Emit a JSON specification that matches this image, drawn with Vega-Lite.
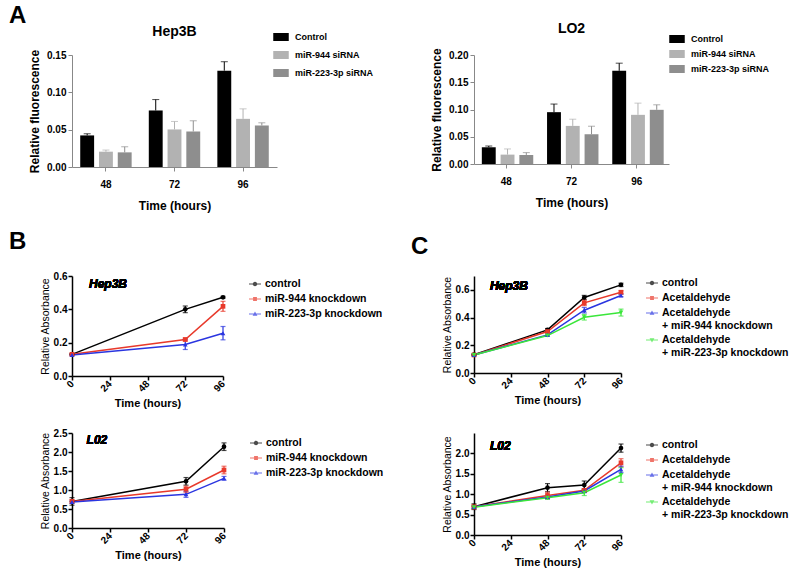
{
"$schema": "https://vega.github.io/schema/vega-lite/v6.json",
"background": "white",
"padding": {"left": 9, "top": 4, "right": 2, "bottom": 5},
"config": {
  "font": "Liberation Sans",
  "view": {"stroke": null},
  "axis": {"grid": false, "labelOverlap": false, "labelFont": "Liberation Sans", "titleFont": "Liberation Sans", "labelColor": "black", "titleColor": "black", "domainColor": "black", "tickColor": "black"},
  "legend": {"labelFont": "Liberation Sans", "labelColor": "black"},
  "title": {"font": "Liberation Sans", "color": "black"}
},
"title": {"text": "A", "anchor": "start", "fontSize": 24, "fontWeight": "bold", "dx": 0, "offset": -6},
"columns": 2,
"spacing": {"row": 19, "column": 27},
"resolve": {"scale": {"color": "independent", "shape": "independent"}, "legend": {"color": "independent", "shape": "independent"}},
"datasets": {
  "a_hep": [
    {"t": "48", "g": "Control", "v": 0.0423, "hi": 0.0445},
    {"t": "48", "g": "miR-944 siRNA", "v": 0.0205, "hi": 0.0227},
    {"t": "48", "g": "miR-223-3p siRNA", "v": 0.0196, "hi": 0.0271},
    {"t": "72", "g": "Control", "v": 0.0757, "hi": 0.0903},
    {"t": "72", "g": "miR-944 siRNA", "v": 0.0503, "hi": 0.061},
    {"t": "72", "g": "miR-223-3p siRNA", "v": 0.0476, "hi": 0.0619},
    {"t": "96", "g": "Control", "v": 0.129, "hi": 0.141},
    {"t": "96", "g": "miR-944 siRNA", "v": 0.0645, "hi": 0.0779},
    {"t": "96", "g": "miR-223-3p siRNA", "v": 0.0556, "hi": 0.0592}
  ],
  "a_lo2": [
    {"t": "48", "g": "Control", "v": 0.0307, "hi": 0.033},
    {"t": "48", "g": "miR-944 siRNA", "v": 0.0172, "hi": 0.0276},
    {"t": "48", "g": "miR-223-3p siRNA", "v": 0.0166, "hi": 0.0209},
    {"t": "72", "g": "Control", "v": 0.0951, "hi": 0.11},
    {"t": "72", "g": "miR-944 siRNA", "v": 0.0699, "hi": 0.0822},
    {"t": "72", "g": "miR-223-3p siRNA", "v": 0.0546, "hi": 0.0693},
    {"t": "96", "g": "Control", "v": 0.171, "hi": 0.185},
    {"t": "96", "g": "miR-944 siRNA", "v": 0.0902, "hi": 0.1117},
    {"t": "96", "g": "miR-223-3p siRNA", "v": 0.0994, "hi": 0.1086}
  ],
  "b_hep": [
    {"s": "control", "t": 0, "y": 0.13, "lo": 0.125, "hi": 0.135},
    {"s": "control", "t": 72, "y": 0.4, "lo": 0.38, "hi": 0.42},
    {"s": "control", "t": 96, "y": 0.472, "lo": 0.466, "hi": 0.478},
    {"s": "miR-944 knockdown", "t": 0, "y": 0.13, "lo": 0.125, "hi": 0.135},
    {"s": "miR-944 knockdown", "t": 72, "y": 0.219, "lo": 0.211, "hi": 0.227},
    {"s": "miR-944 knockdown", "t": 96, "y": 0.418, "lo": 0.388, "hi": 0.448},
    {"s": "miR-223-3p knockdown", "t": 0, "y": 0.126, "lo": 0.121, "hi": 0.131},
    {"s": "miR-223-3p knockdown", "t": 72, "y": 0.189, "lo": 0.159, "hi": 0.219},
    {"s": "miR-223-3p knockdown", "t": 96, "y": 0.257, "lo": 0.217, "hi": 0.297}
  ],
  "b_l02": [
    {"s": "control", "t": 0, "y": 0.7, "lo": 0.6, "hi": 0.8},
    {"s": "control", "t": 72, "y": 1.228, "lo": 1.128, "hi": 1.328},
    {"s": "control", "t": 96, "y": 2.14, "lo": 2.04, "hi": 2.24},
    {"s": "miR-944 knockdown", "t": 0, "y": 0.7, "lo": 0.65, "hi": 0.75},
    {"s": "miR-944 knockdown", "t": 72, "y": 1.02, "lo": 0.94, "hi": 1.1},
    {"s": "miR-944 knockdown", "t": 96, "y": 1.526, "lo": 1.426, "hi": 1.626},
    {"s": "miR-223-3p knockdown", "t": 0, "y": 0.684, "lo": 0.654, "hi": 0.714},
    {"s": "miR-223-3p knockdown", "t": 72, "y": 0.886, "lo": 0.806, "hi": 0.966},
    {"s": "miR-223-3p knockdown", "t": 96, "y": 1.307, "lo": 1.257, "hi": 1.357}
  ],
  "c_hep": [
    {"s": "control", "t": 0, "y": 0.1325, "lo": 0.1275, "hi": 0.1375},
    {"s": "control", "t": 48, "y": 0.311, "lo": 0.301, "hi": 0.321},
    {"s": "control", "t": 72, "y": 0.545, "lo": 0.53, "hi": 0.56},
    {"s": "control", "t": 96, "y": 0.636, "lo": 0.624, "hi": 0.648},
    {"s": "Acetaldehyde", "t": 0, "y": 0.13, "lo": 0.125, "hi": 0.135},
    {"s": "Acetaldehyde", "t": 48, "y": 0.299, "lo": 0.291, "hi": 0.307},
    {"s": "Acetaldehyde", "t": 72, "y": 0.506, "lo": 0.486, "hi": 0.526},
    {"s": "Acetaldehyde", "t": 96, "y": 0.583, "lo": 0.573, "hi": 0.593},
    {"s": "Acetaldehyde|+ miR-944 knockdown", "t": 0, "y": 0.13, "lo": 0.125, "hi": 0.135},
    {"s": "Acetaldehyde|+ miR-944 knockdown", "t": 48, "y": 0.275, "lo": 0.269, "hi": 0.281},
    {"s": "Acetaldehyde|+ miR-944 knockdown", "t": 72, "y": 0.453, "lo": 0.433, "hi": 0.473},
    {"s": "Acetaldehyde|+ miR-944 knockdown", "t": 96, "y": 0.559, "lo": 0.551, "hi": 0.567},
    {"s": "Acetaldehyde|+ miR-223-3p knockdown", "t": 0, "y": 0.13, "lo": 0.125, "hi": 0.135},
    {"s": "Acetaldehyde|+ miR-223-3p knockdown", "t": 48, "y": 0.27, "lo": 0.264, "hi": 0.276},
    {"s": "Acetaldehyde|+ miR-223-3p knockdown", "t": 72, "y": 0.402, "lo": 0.382, "hi": 0.422},
    {"s": "Acetaldehyde|+ miR-223-3p knockdown", "t": 96, "y": 0.436, "lo": 0.411, "hi": 0.461}
  ],
  "c_l02": [
    {"s": "control", "t": 0, "y": 0.694, "lo": 0.624, "hi": 0.764},
    {"s": "control", "t": 48, "y": 1.16, "lo": 1.06, "hi": 1.26},
    {"s": "control", "t": 72, "y": 1.224, "lo": 1.124, "hi": 1.324},
    {"s": "control", "t": 96, "y": 2.13, "lo": 2.03, "hi": 2.23},
    {"s": "Acetaldehyde", "t": 0, "y": 0.69, "lo": 0.64, "hi": 0.74},
    {"s": "Acetaldehyde", "t": 48, "y": 0.97, "lo": 0.89, "hi": 1.05},
    {"s": "Acetaldehyde", "t": 72, "y": 1.094, "lo": 1.054, "hi": 1.134},
    {"s": "Acetaldehyde", "t": 96, "y": 1.77, "lo": 1.67, "hi": 1.87},
    {"s": "Acetaldehyde|+ miR-944 knockdown", "t": 0, "y": 0.69, "lo": 0.66, "hi": 0.72},
    {"s": "Acetaldehyde|+ miR-944 knockdown", "t": 48, "y": 0.93, "lo": 0.89, "hi": 0.97},
    {"s": "Acetaldehyde|+ miR-944 knockdown", "t": 72, "y": 1.078, "lo": 1.038, "hi": 1.118},
    {"s": "Acetaldehyde|+ miR-944 knockdown", "t": 96, "y": 1.608, "lo": 1.528, "hi": 1.688},
    {"s": "Acetaldehyde|+ miR-223-3p knockdown", "t": 0, "y": 0.68, "lo": 0.65, "hi": 0.71},
    {"s": "Acetaldehyde|+ miR-223-3p knockdown", "t": 48, "y": 0.914, "lo": 0.874, "hi": 0.954},
    {"s": "Acetaldehyde|+ miR-223-3p knockdown", "t": 72, "y": 1.037, "lo": 0.967, "hi": 1.107},
    {"s": "Acetaldehyde|+ miR-223-3p knockdown", "t": 96, "y": 1.47, "lo": 1.29, "hi": 1.65}
  ]
},
"concat": [
  {
    "width": 205, "height": 112,
    "data": {"name": "a_hep"},
    "title": {"text": "Hep3B", "fontSize": 14, "fontWeight": "bold", "offset": -10},
    "encoding": {
      "x": {"field": "t", "type": "nominal", "sort": ["48", "72", "96"], "scale": {"paddingInner": 0.25, "paddingOuter": 0.12},
            "axis": {"title": "Time (hours)", "labelAngle": 0, "labelFontSize": 10, "labelFontWeight": "bold", "titleFontSize": 12, "titleFontWeight": "bold", "tickSize": 4, "labelPadding": 8, "titlePadding": 11, "domainColor": "#888888", "tickColor": "#888888"}},
      "xOffset": {"field": "g", "type": "nominal", "sort": ["Control", "miR-944 siRNA", "miR-223-3p siRNA"], "scale": {"paddingInner": 0.26, "paddingOuter": 0}}
    },
    "layer": [
      {"mark": {"type": "bar"},
       "encoding": {
         "y": {"field": "v", "type": "quantitative", "scale": {"domain": [0, 0.15], "nice": false},
               "axis": {"title": "Relative fluorescence", "values": [0, 0.05, 0.1, 0.15], "format": ".2f", "labelFontSize": 10, "labelFontWeight": "bold", "titleFontSize": 12, "titleFontWeight": "bold", "tickSize": 4, "labelPadding": 2, "titlePadding": 5, "domainColor": "#888888", "tickColor": "#888888"}},
         "color": {"field": "g", "type": "nominal", "scale": {"domain": ["Control", "miR-944 siRNA", "miR-223-3p siRNA"], "range": ["#000000", "#b2b2b2", "#8e8e8e"]},
                   "legend": {"title": null, "orient": "none", "legendX": 201, "legendY": -26, "symbolType": "M-1,-0.45H1V0.45H-1Z", "symbolSize": 196, "labelFontSize": 9, "labelFontWeight": "bold", "rowPadding": 3, "labelOffset": 6}}
       }},
      {"mark": {"type": "rule", "strokeWidth": 1},
       "encoding": {"y": {"field": "v", "type": "quantitative",
               "axis": {"title": "Relative fluorescence", "values": [0, 0.05, 0.1, 0.15], "format": ".2f", "labelFontSize": 10, "labelFontWeight": "bold", "titleFontSize": 12, "titleFontWeight": "bold", "tickSize": 4, "labelPadding": 2, "titlePadding": 5, "domainColor": "#888888", "tickColor": "#888888"}},
         "y2": {"field": "hi"},
         "color": {"field": "g", "type": "nominal", "legend": null}}},
      {"mark": {"type": "tick", "orient": "horizontal", "size": 7, "thickness": 1},
       "encoding": {"y": {"field": "hi", "type": "quantitative",
               "axis": {"title": "Relative fluorescence", "values": [0, 0.05, 0.1, 0.15], "format": ".2f", "labelFontSize": 10, "labelFontWeight": "bold", "titleFontSize": 12, "titleFontWeight": "bold", "tickSize": 4, "labelPadding": 2, "titlePadding": 5, "domainColor": "#888888", "tickColor": "#888888"}},
         "color": {"field": "g", "type": "nominal", "legend": null}}}
    ]
  },
  {
    "width": 195, "height": 109,
    "data": {"name": "a_lo2"},
    "title": {"text": "LO2", "fontSize": 14, "fontWeight": "bold", "offset": -5},
    "encoding": {
      "x": {"field": "t", "type": "nominal", "sort": ["48", "72", "96"], "scale": {"paddingInner": 0.25, "paddingOuter": 0.12},
            "axis": {"title": "Time (hours)", "labelAngle": 0, "labelFontSize": 10, "labelFontWeight": "bold", "titleFontSize": 12, "titleFontWeight": "bold", "tickSize": 4, "labelPadding": 8, "titlePadding": 11, "domainColor": "#888888", "tickColor": "#888888"}},
      "xOffset": {"field": "g", "type": "nominal", "sort": ["Control", "miR-944 siRNA", "miR-223-3p siRNA"], "scale": {"paddingInner": 0.26, "paddingOuter": 0}}
    },
    "layer": [
      {"mark": {"type": "bar"},
       "encoding": {
         "y": {"field": "v", "type": "quantitative", "scale": {"domain": [0, 0.2], "nice": false},
               "axis": {"title": "Relative fluorescence", "values": [0, 0.05, 0.1, 0.15, 0.2], "format": ".2f", "labelFontSize": 10, "labelFontWeight": "bold", "titleFontSize": 12, "titleFontWeight": "bold", "tickSize": 4, "labelPadding": 2, "titlePadding": 5, "domainColor": "#888888", "tickColor": "#888888"}},
         "color": {"field": "g", "type": "nominal", "scale": {"domain": ["Control", "miR-944 siRNA", "miR-223-3p siRNA"], "range": ["#000000", "#b2b2b2", "#8e8e8e"]},
                   "legend": {"title": null, "orient": "none", "legendX": 195, "legendY": -24, "symbolType": "M-1,-0.45H1V0.45H-1Z", "symbolSize": 196, "labelFontSize": 9, "labelFontWeight": "bold", "rowPadding": 0, "labelOffset": 6}}
       }},
      {"mark": {"type": "rule", "strokeWidth": 1},
       "encoding": {"y": {"field": "v", "type": "quantitative",
               "axis": {"title": "Relative fluorescence", "values": [0, 0.05, 0.1, 0.15, 0.2], "format": ".2f", "labelFontSize": 10, "labelFontWeight": "bold", "titleFontSize": 12, "titleFontWeight": "bold", "tickSize": 4, "labelPadding": 2, "titlePadding": 5, "domainColor": "#888888", "tickColor": "#888888"}},
         "y2": {"field": "hi"},
         "color": {"field": "g", "type": "nominal", "legend": null}}},
      {"mark": {"type": "tick", "orient": "horizontal", "size": 7, "thickness": 1},
       "encoding": {"y": {"field": "hi", "type": "quantitative",
               "axis": {"title": "Relative fluorescence", "values": [0, 0.05, 0.1, 0.15, 0.2], "format": ".2f", "labelFontSize": 10, "labelFontWeight": "bold", "titleFontSize": 12, "titleFontWeight": "bold", "tickSize": 4, "labelPadding": 2, "titlePadding": 5, "domainColor": "#888888", "tickColor": "#888888"}},
         "color": {"field": "g", "type": "nominal", "legend": null}}}
    ]
  },
  {
    "width": 151, "height": 100,
    "data": {"name": "b_hep"},
    "title": {"text": "B", "anchor": "start", "fontSize": 24, "fontWeight": "bold", "dx": -31, "offset": 17},
    "encoding": {
      "x": {"field": "t", "type": "quantitative", "scale": {"domain": [0, 96], "nice": false},
            "axis": {"values": [0, 24, 48, 72, 96], "labelAngle": -45, "labelAlign": "right", "labelBaseline": "middle", "title": "Time (hours)", "titleFontSize": 11, "titleFontWeight": "bold", "labelFontSize": 10, "labelFontWeight": "bold", "tickSize": 4, "labelPadding": 2, "titlePadding": 4, "domainWidth": 1.5, "tickWidth": 1.5}},
      "y": {"field": "y", "type": "quantitative", "scale": {"domain": [0, 0.6], "nice": false},
            "axis": {"values": [0, 0.2, 0.4, 0.6], "format": ".1f", "title": "Relative Absorbance", "titleFontSize": 10.5, "titleFontWeight": "normal", "labelFontSize": 10, "labelFontWeight": "bold", "tickSize": 4, "labelPadding": 1, "titlePadding": 3, "domainWidth": 1.5, "tickWidth": 1.5}}
    },
    "layer": [
      {"transform": [{"filter": "false"}], "mark": {"type": "point", "filled": true},
       "encoding": {
         "shape": {"field": "s", "type": "nominal", "scale": {"domain": ["control", "miR-944 knockdown", "miR-223-3p knockdown"], "range": ["M-1,-0.09H1V0.09H-1ZM-0.38,0A0.38,0.38 0 1,1 0.38,0A0.38,0.38 0 1,1 -0.38,0Z", "M-1,-0.09H1V0.09H-1ZM-0.32,-0.32H0.32V0.32H-0.32Z", "M-1,-0.09H1V0.09H-1ZM0,-0.42L0.4,0.3H-0.4Z"]},
           "legend": {"title": null, "orient": "none", "legendX": 177, "legendY": 2, "symbolSize": 144, "symbolStrokeWidth": 0, "labelFontSize": 10.5, "labelFontWeight": "bold", "rowPadding": 3, "labelOffset": 4}},
         "color": {"field": "s", "type": "nominal", "scale": {"domain": ["control", "miR-944 knockdown", "miR-223-3p knockdown"], "range": ["#000000", "#e8392b", "#2a35e0"]},
           "legend": {"title": null, "orient": "none", "legendX": 177, "legendY": 2, "symbolSize": 144, "symbolStrokeWidth": 0, "labelFontSize": 10.5, "labelFontWeight": "bold", "rowPadding": 3, "labelOffset": 4}}}},
      {"mark": {"type": "line", "strokeWidth": 1.5},
       "encoding": {"color": {"field": "s", "type": "nominal", "legend": null}}},
      {"mark": {"type": "rule", "strokeWidth": 1.2},
       "encoding": {"y": {"field": "lo", "type": "quantitative", "axis": {"values": [0, 0.2, 0.4, 0.6], "format": ".1f", "title": "Relative Absorbance", "titleFontSize": 10.5, "titleFontWeight": "normal", "labelFontSize": 10, "labelFontWeight": "bold", "tickSize": 4, "labelPadding": 1, "titlePadding": 3, "domainWidth": 1.5, "tickWidth": 1.5}}, "y2": {"field": "hi"},
         "color": {"field": "s", "type": "nominal", "legend": null}}},
      {"mark": {"type": "tick", "orient": "horizontal", "size": 5, "thickness": 1.2},
       "encoding": {"y": {"field": "lo", "type": "quantitative", "axis": {"values": [0, 0.2, 0.4, 0.6], "format": ".1f", "title": "Relative Absorbance", "titleFontSize": 10.5, "titleFontWeight": "normal", "labelFontSize": 10, "labelFontWeight": "bold", "tickSize": 4, "labelPadding": 1, "titlePadding": 3, "domainWidth": 1.5, "tickWidth": 1.5}},
         "color": {"field": "s", "type": "nominal", "legend": null}}},
      {"mark": {"type": "tick", "orient": "horizontal", "size": 5, "thickness": 1.2},
       "encoding": {"y": {"field": "hi", "type": "quantitative", "axis": {"values": [0, 0.2, 0.4, 0.6], "format": ".1f", "title": "Relative Absorbance", "titleFontSize": 10.5, "titleFontWeight": "normal", "labelFontSize": 10, "labelFontWeight": "bold", "tickSize": 4, "labelPadding": 1, "titlePadding": 3, "domainWidth": 1.5, "tickWidth": 1.5}},
         "color": {"field": "s", "type": "nominal", "legend": null}}},
      {"transform": [{"filter": {"field": "s", "equal": "control"}}], "mark": {"type": "point", "filled": true, "shape": "circle", "size": 22, "opacity": 1},
       "encoding": {"color": {"field": "s", "type": "nominal", "legend": null}}},
      {"transform": [{"filter": {"field": "s", "equal": "miR-944 knockdown"}}], "mark": {"type": "point", "filled": true, "shape": "square", "size": 22, "opacity": 1},
       "encoding": {"color": {"field": "s", "type": "nominal", "legend": null}}},
      {"transform": [{"filter": {"field": "s", "equal": "miR-223-3p knockdown"}}], "mark": {"type": "point", "filled": true, "shape": "triangle-up", "size": 22, "opacity": 1},
       "encoding": {"color": {"field": "s", "type": "nominal", "legend": null}}},
      {"mark": {"type": "text", "fontStyle": "italic", "fontWeight": "bold", "fontSize": 12, "align": "left", "baseline": "middle"},
       "encoding": {"x": {"datum": 10.8}, "y": {"datum": 0.554}, "text": {"value": "Hep3B"}, "color": {"value": "black"}}}
    ]
  },
  {
    "width": 147, "height": 97,
    "data": {"name": "c_hep"},
    "title": {"text": "C", "anchor": "start", "fontSize": 24, "fontWeight": "bold", "dx": -31, "offset": 17},
    "encoding": {
      "x": {"field": "t", "type": "quantitative", "scale": {"domain": [0, 96], "nice": false},
            "axis": {"values": [0, 24, 48, 72, 96], "labelAngle": -45, "labelAlign": "right", "labelBaseline": "middle", "title": "Time (hours)", "titleFontSize": 11, "titleFontWeight": "bold", "labelFontSize": 10, "labelFontWeight": "bold", "tickSize": 4, "labelPadding": 2, "titlePadding": 4, "domainWidth": 1.5, "tickWidth": 1.5}},
      "y": {"field": "y", "type": "quantitative", "scale": {"domain": [0, 0.7], "nice": false},
            "axis": {"values": [0, 0.2, 0.4, 0.6], "format": ".1f", "title": "Relative Absorbance", "titleFontSize": 10.5, "titleFontWeight": "normal", "labelFontSize": 10, "labelFontWeight": "bold", "tickSize": 4, "labelPadding": 1, "titlePadding": 3, "domainWidth": 1.5, "tickWidth": 1.5}}
    },
    "layer": [
      {"transform": [{"filter": "false"}], "mark": {"type": "point", "filled": true},
       "encoding": {
         "shape": {"field": "s", "type": "nominal", "scale": {"domain": ["control", "Acetaldehyde", "Acetaldehyde|+ miR-944 knockdown", "Acetaldehyde|+ miR-223-3p knockdown"], "range": ["M-1,-0.09H1V0.09H-1ZM-0.38,0A0.38,0.38 0 1,1 0.38,0A0.38,0.38 0 1,1 -0.38,0Z", "M-1,-0.09H1V0.09H-1ZM-0.32,-0.32H0.32V0.32H-0.32Z", "M-1,-0.09H1V0.09H-1ZM0,-0.42L0.4,0.3H-0.4Z", "M-1,-0.09H1V0.09H-1ZM0,0.42L-0.4,-0.3H0.4Z"]},
           "legend": {"title": null, "orient": "none", "legendX": 172, "legendY": 1, "symbolSize": 144, "symbolStrokeWidth": 0, "labelFontSize": 10.5, "labelFontWeight": "bold", "rowPadding": 3, "labelOffset": 4, "labelExpr": "split(datum.label, '|')"}},
         "color": {"field": "s", "type": "nominal", "scale": {"domain": ["control", "Acetaldehyde", "Acetaldehyde|+ miR-944 knockdown", "Acetaldehyde|+ miR-223-3p knockdown"], "range": ["#000000", "#e8392b", "#2a35e0", "#3ae63a"]},
           "legend": {"title": null, "orient": "none", "legendX": 172, "legendY": 1, "symbolSize": 144, "symbolStrokeWidth": 0, "labelFontSize": 10.5, "labelFontWeight": "bold", "rowPadding": 3, "labelOffset": 4, "labelExpr": "split(datum.label, '|')"}}}},
      {"mark": {"type": "line", "strokeWidth": 1.5},
       "encoding": {"color": {"field": "s", "type": "nominal", "legend": null}}},
      {"mark": {"type": "rule", "strokeWidth": 1.2},
       "encoding": {"y": {"field": "lo", "type": "quantitative", "axis": {"values": [0, 0.2, 0.4, 0.6], "format": ".1f", "title": "Relative Absorbance", "titleFontSize": 10.5, "titleFontWeight": "normal", "labelFontSize": 10, "labelFontWeight": "bold", "tickSize": 4, "labelPadding": 1, "titlePadding": 3, "domainWidth": 1.5, "tickWidth": 1.5}}, "y2": {"field": "hi"},
         "color": {"field": "s", "type": "nominal", "legend": null}}},
      {"mark": {"type": "tick", "orient": "horizontal", "size": 5, "thickness": 1.2},
       "encoding": {"y": {"field": "lo", "type": "quantitative", "axis": {"values": [0, 0.2, 0.4, 0.6], "format": ".1f", "title": "Relative Absorbance", "titleFontSize": 10.5, "titleFontWeight": "normal", "labelFontSize": 10, "labelFontWeight": "bold", "tickSize": 4, "labelPadding": 1, "titlePadding": 3, "domainWidth": 1.5, "tickWidth": 1.5}},
         "color": {"field": "s", "type": "nominal", "legend": null}}},
      {"mark": {"type": "tick", "orient": "horizontal", "size": 5, "thickness": 1.2},
       "encoding": {"y": {"field": "hi", "type": "quantitative", "axis": {"values": [0, 0.2, 0.4, 0.6], "format": ".1f", "title": "Relative Absorbance", "titleFontSize": 10.5, "titleFontWeight": "normal", "labelFontSize": 10, "labelFontWeight": "bold", "tickSize": 4, "labelPadding": 1, "titlePadding": 3, "domainWidth": 1.5, "tickWidth": 1.5}},
         "color": {"field": "s", "type": "nominal", "legend": null}}},
      {"transform": [{"filter": {"field": "s", "equal": "control"}}], "mark": {"type": "point", "filled": true, "shape": "circle", "size": 22, "opacity": 1},
       "encoding": {"color": {"field": "s", "type": "nominal", "legend": null}}},
      {"transform": [{"filter": {"field": "s", "equal": "Acetaldehyde"}}], "mark": {"type": "point", "filled": true, "shape": "square", "size": 22, "opacity": 1},
       "encoding": {"color": {"field": "s", "type": "nominal", "legend": null}}},
      {"transform": [{"filter": {"field": "s", "equal": "Acetaldehyde|+ miR-944 knockdown"}}], "mark": {"type": "point", "filled": true, "shape": "triangle-up", "size": 22, "opacity": 1},
       "encoding": {"color": {"field": "s", "type": "nominal", "legend": null}}},
      {"transform": [{"filter": {"field": "s", "equal": "Acetaldehyde|+ miR-223-3p knockdown"}}], "mark": {"type": "point", "filled": true, "shape": "triangle-down", "size": 22, "opacity": 1},
       "encoding": {"color": {"field": "s", "type": "nominal", "legend": null}}},
      {"mark": {"type": "text", "fontStyle": "italic", "fontWeight": "bold", "fontSize": 12, "align": "left", "baseline": "middle"},
       "encoding": {"x": {"datum": 10.4}, "y": {"datum": 0.63}, "text": {"value": "Hep3B"}, "color": {"value": "black"}}}
    ]
  },
  {
    "width": 152, "height": 95,
    "data": {"name": "b_l02"},
    "encoding": {
      "x": {"field": "t", "type": "quantitative", "scale": {"domain": [0, 96], "nice": false},
            "axis": {"values": [0, 24, 48, 72, 96], "labelAngle": -45, "labelAlign": "right", "labelBaseline": "middle", "title": "Time (hours)", "titleFontSize": 11, "titleFontWeight": "bold", "labelFontSize": 10, "labelFontWeight": "bold", "tickSize": 4, "labelPadding": 2, "titlePadding": 4, "domainWidth": 1.5, "tickWidth": 1.5}},
      "y": {"field": "y", "type": "quantitative", "scale": {"domain": [0, 2.5], "nice": false},
            "axis": {"values": [0, 0.5, 1, 1.5, 2, 2.5], "format": ".1f", "title": "Relative Absorbance", "titleFontSize": 10.5, "titleFontWeight": "normal", "labelFontSize": 10, "labelFontWeight": "bold", "tickSize": 4, "labelPadding": 1, "titlePadding": 3, "domainWidth": 1.5, "tickWidth": 1.5}}
    },
    "layer": [
      {"transform": [{"filter": "false"}], "mark": {"type": "point", "filled": true},
       "encoding": {
         "shape": {"field": "s", "type": "nominal", "scale": {"domain": ["control", "miR-944 knockdown", "miR-223-3p knockdown"], "range": ["M-1,-0.09H1V0.09H-1ZM-0.38,0A0.38,0.38 0 1,1 0.38,0A0.38,0.38 0 1,1 -0.38,0Z", "M-1,-0.09H1V0.09H-1ZM-0.32,-0.32H0.32V0.32H-0.32Z", "M-1,-0.09H1V0.09H-1ZM0,-0.42L0.4,0.3H-0.4Z"]},
           "legend": {"title": null, "orient": "none", "legendX": 178, "legendY": 4, "symbolSize": 144, "symbolStrokeWidth": 0, "labelFontSize": 10.5, "labelFontWeight": "bold", "rowPadding": 3, "labelOffset": 4}},
         "color": {"field": "s", "type": "nominal", "scale": {"domain": ["control", "miR-944 knockdown", "miR-223-3p knockdown"], "range": ["#000000", "#e8392b", "#2a35e0"]},
           "legend": {"title": null, "orient": "none", "legendX": 178, "legendY": 4, "symbolSize": 144, "symbolStrokeWidth": 0, "labelFontSize": 10.5, "labelFontWeight": "bold", "rowPadding": 3, "labelOffset": 4}}}},
      {"mark": {"type": "line", "strokeWidth": 1.5},
       "encoding": {"color": {"field": "s", "type": "nominal", "legend": null}}},
      {"mark": {"type": "rule", "strokeWidth": 1.2},
       "encoding": {"y": {"field": "lo", "type": "quantitative", "axis": {"values": [0, 0.5, 1, 1.5, 2, 2.5], "format": ".1f", "title": "Relative Absorbance", "titleFontSize": 10.5, "titleFontWeight": "normal", "labelFontSize": 10, "labelFontWeight": "bold", "tickSize": 4, "labelPadding": 1, "titlePadding": 3, "domainWidth": 1.5, "tickWidth": 1.5}}, "y2": {"field": "hi"},
         "color": {"field": "s", "type": "nominal", "legend": null}}},
      {"mark": {"type": "tick", "orient": "horizontal", "size": 5, "thickness": 1.2},
       "encoding": {"y": {"field": "lo", "type": "quantitative", "axis": {"values": [0, 0.5, 1, 1.5, 2, 2.5], "format": ".1f", "title": "Relative Absorbance", "titleFontSize": 10.5, "titleFontWeight": "normal", "labelFontSize": 10, "labelFontWeight": "bold", "tickSize": 4, "labelPadding": 1, "titlePadding": 3, "domainWidth": 1.5, "tickWidth": 1.5}},
         "color": {"field": "s", "type": "nominal", "legend": null}}},
      {"mark": {"type": "tick", "orient": "horizontal", "size": 5, "thickness": 1.2},
       "encoding": {"y": {"field": "hi", "type": "quantitative", "axis": {"values": [0, 0.5, 1, 1.5, 2, 2.5], "format": ".1f", "title": "Relative Absorbance", "titleFontSize": 10.5, "titleFontWeight": "normal", "labelFontSize": 10, "labelFontWeight": "bold", "tickSize": 4, "labelPadding": 1, "titlePadding": 3, "domainWidth": 1.5, "tickWidth": 1.5}},
         "color": {"field": "s", "type": "nominal", "legend": null}}},
      {"transform": [{"filter": {"field": "s", "equal": "control"}}], "mark": {"type": "point", "filled": true, "shape": "circle", "size": 22, "opacity": 1},
       "encoding": {"color": {"field": "s", "type": "nominal", "legend": null}}},
      {"transform": [{"filter": {"field": "s", "equal": "miR-944 knockdown"}}], "mark": {"type": "point", "filled": true, "shape": "square", "size": 22, "opacity": 1},
       "encoding": {"color": {"field": "s", "type": "nominal", "legend": null}}},
      {"transform": [{"filter": {"field": "s", "equal": "miR-223-3p knockdown"}}], "mark": {"type": "point", "filled": true, "shape": "triangle-up", "size": 22, "opacity": 1},
       "encoding": {"color": {"field": "s", "type": "nominal", "legend": null}}},
      {"mark": {"type": "text", "fontStyle": "italic", "fontWeight": "bold", "fontSize": 12, "align": "left", "baseline": "middle"},
       "encoding": {"x": {"datum": 9.2}, "y": {"datum": 2.31}, "text": {"value": "L02"}, "color": {"value": "black"}}}
    ]
  },
  {
    "width": 147, "height": 102,
    "data": {"name": "c_l02"},
    "encoding": {
      "x": {"field": "t", "type": "quantitative", "scale": {"domain": [0, 96], "nice": false},
            "axis": {"values": [0, 24, 48, 72, 96], "labelAngle": -45, "labelAlign": "right", "labelBaseline": "middle", "title": "Time (hours)", "titleFontSize": 11, "titleFontWeight": "bold", "labelFontSize": 10, "labelFontWeight": "bold", "tickSize": 4, "labelPadding": 2, "titlePadding": 4, "domainWidth": 1.5, "tickWidth": 1.5}},
      "y": {"field": "y", "type": "quantitative", "scale": {"domain": [0, 2.5], "nice": false},
            "axis": {"values": [0, 0.5, 1, 1.5, 2], "format": ".1f", "title": "Relative Absorbance", "titleFontSize": 10.5, "titleFontWeight": "normal", "labelFontSize": 10, "labelFontWeight": "bold", "tickSize": 4, "labelPadding": 1, "titlePadding": 3, "domainWidth": 1.5, "tickWidth": 1.5}}
    },
    "layer": [
      {"transform": [{"filter": "false"}], "mark": {"type": "point", "filled": true},
       "encoding": {
         "shape": {"field": "s", "type": "nominal", "scale": {"domain": ["control", "Acetaldehyde", "Acetaldehyde|+ miR-944 knockdown", "Acetaldehyde|+ miR-223-3p knockdown"], "range": ["M-1,-0.09H1V0.09H-1ZM-0.38,0A0.38,0.38 0 1,1 0.38,0A0.38,0.38 0 1,1 -0.38,0Z", "M-1,-0.09H1V0.09H-1ZM-0.32,-0.32H0.32V0.32H-0.32Z", "M-1,-0.09H1V0.09H-1ZM0,-0.42L0.4,0.3H-0.4Z", "M-1,-0.09H1V0.09H-1ZM0,0.42L-0.4,-0.3H0.4Z"]},
           "legend": {"title": null, "orient": "none", "legendX": 172, "legendY": 6, "symbolSize": 144, "symbolStrokeWidth": 0, "labelFontSize": 10.5, "labelFontWeight": "bold", "rowPadding": 3, "labelOffset": 4, "labelExpr": "split(datum.label, '|')"}},
         "color": {"field": "s", "type": "nominal", "scale": {"domain": ["control", "Acetaldehyde", "Acetaldehyde|+ miR-944 knockdown", "Acetaldehyde|+ miR-223-3p knockdown"], "range": ["#000000", "#e8392b", "#2a35e0", "#3ae63a"]},
           "legend": {"title": null, "orient": "none", "legendX": 172, "legendY": 6, "symbolSize": 144, "symbolStrokeWidth": 0, "labelFontSize": 10.5, "labelFontWeight": "bold", "rowPadding": 3, "labelOffset": 4, "labelExpr": "split(datum.label, '|')"}}}},
      {"mark": {"type": "line", "strokeWidth": 1.5},
       "encoding": {"color": {"field": "s", "type": "nominal", "legend": null}}},
      {"mark": {"type": "rule", "strokeWidth": 1.2},
       "encoding": {"y": {"field": "lo", "type": "quantitative", "axis": {"values": [0, 0.5, 1, 1.5, 2], "format": ".1f", "title": "Relative Absorbance", "titleFontSize": 10.5, "titleFontWeight": "normal", "labelFontSize": 10, "labelFontWeight": "bold", "tickSize": 4, "labelPadding": 1, "titlePadding": 3, "domainWidth": 1.5, "tickWidth": 1.5}}, "y2": {"field": "hi"},
         "color": {"field": "s", "type": "nominal", "legend": null}}},
      {"mark": {"type": "tick", "orient": "horizontal", "size": 5, "thickness": 1.2},
       "encoding": {"y": {"field": "lo", "type": "quantitative", "axis": {"values": [0, 0.5, 1, 1.5, 2], "format": ".1f", "title": "Relative Absorbance", "titleFontSize": 10.5, "titleFontWeight": "normal", "labelFontSize": 10, "labelFontWeight": "bold", "tickSize": 4, "labelPadding": 1, "titlePadding": 3, "domainWidth": 1.5, "tickWidth": 1.5}},
         "color": {"field": "s", "type": "nominal", "legend": null}}},
      {"mark": {"type": "tick", "orient": "horizontal", "size": 5, "thickness": 1.2},
       "encoding": {"y": {"field": "hi", "type": "quantitative", "axis": {"values": [0, 0.5, 1, 1.5, 2], "format": ".1f", "title": "Relative Absorbance", "titleFontSize": 10.5, "titleFontWeight": "normal", "labelFontSize": 10, "labelFontWeight": "bold", "tickSize": 4, "labelPadding": 1, "titlePadding": 3, "domainWidth": 1.5, "tickWidth": 1.5}},
         "color": {"field": "s", "type": "nominal", "legend": null}}},
      {"transform": [{"filter": {"field": "s", "equal": "control"}}], "mark": {"type": "point", "filled": true, "shape": "circle", "size": 22, "opacity": 1},
       "encoding": {"color": {"field": "s", "type": "nominal", "legend": null}}},
      {"transform": [{"filter": {"field": "s", "equal": "Acetaldehyde"}}], "mark": {"type": "point", "filled": true, "shape": "square", "size": 22, "opacity": 1},
       "encoding": {"color": {"field": "s", "type": "nominal", "legend": null}}},
      {"transform": [{"filter": {"field": "s", "equal": "Acetaldehyde|+ miR-944 knockdown"}}], "mark": {"type": "point", "filled": true, "shape": "triangle-up", "size": 22, "opacity": 1},
       "encoding": {"color": {"field": "s", "type": "nominal", "legend": null}}},
      {"transform": [{"filter": {"field": "s", "equal": "Acetaldehyde|+ miR-223-3p knockdown"}}], "mark": {"type": "point", "filled": true, "shape": "triangle-down", "size": 22, "opacity": 1},
       "encoding": {"color": {"field": "s", "type": "nominal", "legend": null}}},
      {"mark": {"type": "text", "fontStyle": "italic", "fontWeight": "bold", "fontSize": 12, "align": "left", "baseline": "middle"},
       "encoding": {"x": {"datum": 10.4}, "y": {"datum": 2.18}, "text": {"value": "L02"}, "color": {"value": "black"}}}
    ]
  }
]
}
